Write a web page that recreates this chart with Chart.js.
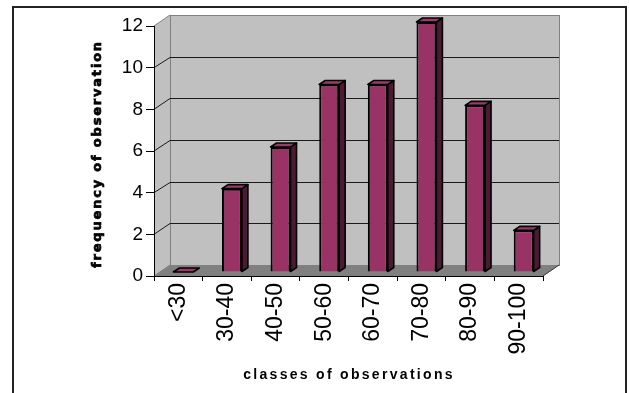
<!DOCTYPE html>
<html>
<head>
<meta charset="utf-8">
<script src="https://cdn.jsdelivr.net/npm/chart.js@4.4.1/dist/chart.umd.min.js"></script>
<style>
  html, body { margin: 0; padding: 0; background: #fff; }
  #wrap { width: 629px; height: 393px; }
</style>
</head>
<body>
<div id="wrap"><canvas id="c" width="629" height="393"></canvas></div>
<script>
// Frequency distribution of observations by class
const categories = ['<30', '30-40', '40-50', '50-60', '60-70', '70-80', '80-90', '90-100'];
const frequencies = [0, 4, 6, 9, 9, 12, 8, 2];
const yTickValues = [0, 2, 4, 6, 8, 10, 12];
const xTitle = 'classes of observations';
const yTitle = 'frequency of observation';

// pseudo-3D geometry (pixels)
const WALL = { dx: 16, dy: -11 };      // depth of the back wall behind the front axes
const BAR_SHIFT = { dx: 5, dy: -4 };   // bar front faces sit slightly inside the box
const BAR_DEPTH = { dx: 6, dy: -4 };   // thickness of each bar

const FONT = '"Liberation Sans", Arial, sans-serif';

const scene3d = {
  id: 'scene3d',
  beforeDraw(chart) {
    const { ctx, chartArea: a } = chart;
    const ys = chart.scales.y;
    const L = a.left, R = a.right;
    const T = ys.getPixelForValue(12), B = ys.getPixelForValue(0);
    ctx.save();

    // outer frame
    ctx.strokeStyle = '#222';
    ctx.lineWidth = 2;
    ctx.strokeRect(13, 7, 613, 440);

    // left side wall
    ctx.fillStyle = '#c0c0c0';
    ctx.beginPath();
    ctx.moveTo(L, B); ctx.lineTo(L, T);
    ctx.lineTo(L + WALL.dx, T + WALL.dy); ctx.lineTo(L + WALL.dx, B + WALL.dy);
    ctx.closePath(); ctx.fill();

    // back wall
    ctx.fillRect(L + WALL.dx, T + WALL.dy, R - L, B - T);
    ctx.strokeStyle = '#808080';
    ctx.lineWidth = 1;
    ctx.strokeRect(Math.round(L + WALL.dx) + 0.5, Math.round(T + WALL.dy) + 0.5, R - L, B - T);

    // floor
    ctx.fillStyle = '#808080';
    ctx.beginPath();
    ctx.moveTo(L, B); ctx.lineTo(L + WALL.dx, B + WALL.dy);
    ctx.lineTo(R + WALL.dx, B + WALL.dy); ctx.lineTo(R, B);
    ctx.closePath(); ctx.fill();

    // wall edges
    ctx.strokeStyle = '#808080';
    ctx.beginPath();
    ctx.moveTo(L, T); ctx.lineTo(L + WALL.dx, T + WALL.dy);
    ctx.moveTo(L, B); ctx.lineTo(L + WALL.dx, B + WALL.dy);
    ctx.stroke();
    ctx.strokeStyle = '#333';
    ctx.beginPath();
    ctx.moveTo(R, B); ctx.lineTo(R + WALL.dx, B + WALL.dy);
    ctx.stroke();

    // gridlines on the side and back walls
    ctx.strokeStyle = '#1a1a1a';
    ctx.lineWidth = 1;
    yTickValues.forEach(v => {
      if (v <= 0 || v >= 12) return;
      const py = ys.getPixelForValue(v);
      const by = Math.round(py + WALL.dy) + 0.5;
      ctx.beginPath();
      ctx.moveTo(L, py); ctx.lineTo(L + WALL.dx, by);
      ctx.lineTo(R + WALL.dx, by);
      ctx.stroke();
    });
    ctx.restore();
  },
  beforeDatasetsDraw(chart) {
    chart.ctx.save();
    chart.ctx.translate(BAR_SHIFT.dx, BAR_SHIFT.dy);
  },
  afterDatasetsDraw(chart) {
    const ctx = chart.ctx;
    const meta = chart.getDatasetMeta(0);
    ctx.lineWidth = 1.6;
    ctx.strokeStyle = '#000';
    ctx.lineJoin = 'round';
    meta.data.forEach(el => {
      const { x, y, base, width } = el.getProps(['x', 'y', 'base', 'width'], true);
      const l = x - width / 2, r = x + width / 2;
      // side face
      if (base - y > 0.5) {
        ctx.fillStyle = '#4d1a36';
        ctx.beginPath();
        ctx.moveTo(r, y); ctx.lineTo(r + BAR_DEPTH.dx, y + BAR_DEPTH.dy);
        ctx.lineTo(r + BAR_DEPTH.dx, base + BAR_DEPTH.dy); ctx.lineTo(r, base);
        ctx.closePath(); ctx.fill(); ctx.stroke();
      }
      // top face
      ctx.fillStyle = '#9c3a6a';
      ctx.beginPath();
      ctx.moveTo(l, y); ctx.lineTo(l + BAR_DEPTH.dx, y + BAR_DEPTH.dy);
      ctx.lineTo(r + BAR_DEPTH.dx, y + BAR_DEPTH.dy); ctx.lineTo(r, y);
      ctx.closePath(); ctx.fill(); ctx.stroke();
    });
    ctx.restore();
  },
  afterDraw(chart) {
    const ctx = chart.ctx;
    ctx.save();
    ctx.fillStyle = '#000';
    ctx.strokeStyle = '#000';
    ctx.textAlign = 'center';
    ctx.textBaseline = 'middle';

    // y axis title (heavy lettering)
    ctx.save();
    ctx.font = 'bold 13px "DejaVu Sans", sans-serif';
    ctx.letterSpacing = '1.8px';
    ctx.lineWidth = 0.7;
    ctx.translate(98, 154);
    ctx.rotate(-Math.PI / 2);
    ctx.fillText(yTitle, 0, 0);
    ctx.strokeText(yTitle, 0, 0);
    ctx.restore();

    // x axis title
    ctx.font = 'bold 14px ' + FONT;
    ctx.letterSpacing = '2.3px';
    ctx.fillText(xTitle, 349, 375);
    ctx.restore();
  }
};

new Chart(document.getElementById('c'), {
  type: 'bar',
  data: {
    labels: categories,
    datasets: [{
      data: frequencies,
      backgroundColor: '#993366',
      borderColor: '#000',
      borderWidth: 2,
      categoryPercentage: 1,
      barPercentage: 0.41,
      clip: false
    }]
  },
  options: {
    responsive: false,
    animation: false,
    layout: { padding: { top: 26, right: 86, left: 0, bottom: 0 } },
    plugins: { legend: { display: false }, tooltip: { enabled: false } },
    scales: {
      x: {
        ticks: {
          font: { family: FONT, size: 23 }, color: '#000',
          minRotation: 90, maxRotation: 90, autoSkip: false, padding: 2
        },
        grid: { offset: true, drawOnChartArea: false, tickLength: 5, tickColor: '#000' },
        border: { display: true, color: '#000', width: 1 },
        afterFit: s => { s.height = 117; }
      },
      y: {
        min: 0, max: 12,
        afterBuildTicks: s => { s.ticks = yTickValues.map(v => ({ value: v })); },
        ticks: { font: { family: FONT, size: 19 }, color: '#000', padding: 3 },
        grid: { drawOnChartArea: false, tickLength: 8, tickColor: '#000' },
        border: { display: true, color: '#000', width: 1 },
        afterFit: s => { s.width = 154; }
      }
    }
  },
  plugins: [scene3d]
});
</script>
</body>
</html>
